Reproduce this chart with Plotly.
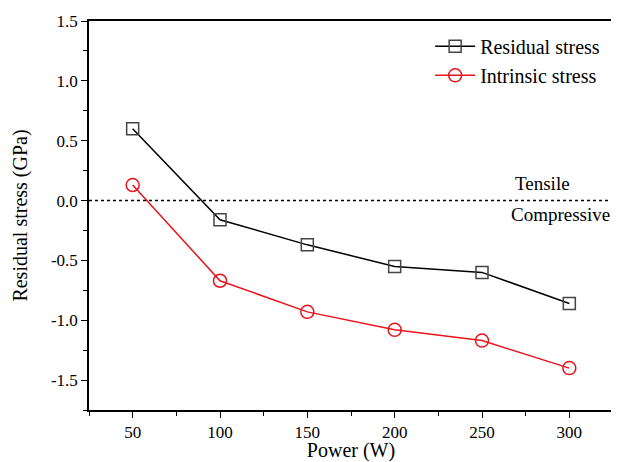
import plotly.graph_objects as go

power = [50, 100, 150, 200, 250, 300]
residual_stress = [0.60, -0.16, -0.37, -0.55, -0.60, -0.86]
intrinsic_stress = [0.13, -0.67, -0.93, -1.08, -1.17, -1.40]

FONT = "Liberation Serif"

fig = go.Figure()
fig.add_trace(go.Scatter(
    x=power, y=residual_stress, mode="lines+markers", name="Residual stress",
    line=dict(color="black", width=1.5),
    marker=dict(symbol="square-open", size=12, color="#444444", line=dict(width=1.5)),
))
fig.add_trace(go.Scatter(
    x=power, y=intrinsic_stress, mode="lines+markers", name="Intrinsic stress",
    line=dict(color="#e8141b", width=1.5),
    marker=dict(symbol="circle-open", size=13, color="#e8141b", line=dict(width=1.5)),
))

fig.add_shape(type="line", xref="paper", yref="y", x0=0, x1=1, y0=0, y1=0,
              line=dict(color="black", width=1.5, dash="dot"))

fig.add_annotation(x=0.866, y=0, xref="paper", yref="y", text="Tensile", showarrow=False,
                   xanchor="center", yanchor="bottom", yshift=5, font=dict(family=FONT, size=19, color="black"))
fig.add_annotation(x=0.999, y=0, xref="paper", yref="y", text="Compressive", showarrow=False,
                   xanchor="right", yanchor="top", yshift=-1, font=dict(family=FONT, size=19, color="black"))

axis_common = dict(
    showline=True, linecolor="black", linewidth=1.5, mirror=True,
    ticks="outside", ticklen=6, tickwidth=1.2, tickcolor="black",
    showgrid=False, zeroline=False, ticklabeloverflow="allow",
    tickfont=dict(family=FONT, size=17, color="black"),
)

fig.update_xaxes(
    range=[25, 325], tickvals=[50, 100, 150, 200, 250, 300],
    minor=dict(tickvals=[25, 75, 125, 175, 225, 275, 325], ticks="outside", ticklen=4, tickcolor="black"),
    title=dict(text="Power (W)", font=dict(family=FONT, size=20, color="black"), standoff=2),
    **axis_common,
)
fig.update_yaxes(
    range=[-1.75, 1.5005], tickvals=[-1.5, -1.0, -0.5, 0.0, 0.5, 1.0, 1.5],
    ticktext=["-1.5", "-1.0", "-0.5", "0.0", "0.5", "1.0", "1.5"],
    minor=dict(tickvals=[-1.75, -1.25, -0.75, -0.25, 0.25, 0.75, 1.25], ticks="outside", ticklen=4, tickcolor="black"),
    title=dict(text="Residual stress (GPa)", font=dict(family=FONT, size=20, color="black"), standoff=18),
    **axis_common,
)

fig.update_layout(
    width=611, height=454,
    margin=dict(l=81, r=4, t=8, b=52),
    paper_bgcolor="white", plot_bgcolor="white",
    font=dict(family=FONT, color="black"),
    legend=dict(x=0.985, y=0.985, xanchor="right", yanchor="top",
                font=dict(family=FONT, size=20, color="black"),
                bgcolor="rgba(0,0,0,0)", tracegroupgap=0, itemwidth=40),
)

fig.write_html("out.html")
